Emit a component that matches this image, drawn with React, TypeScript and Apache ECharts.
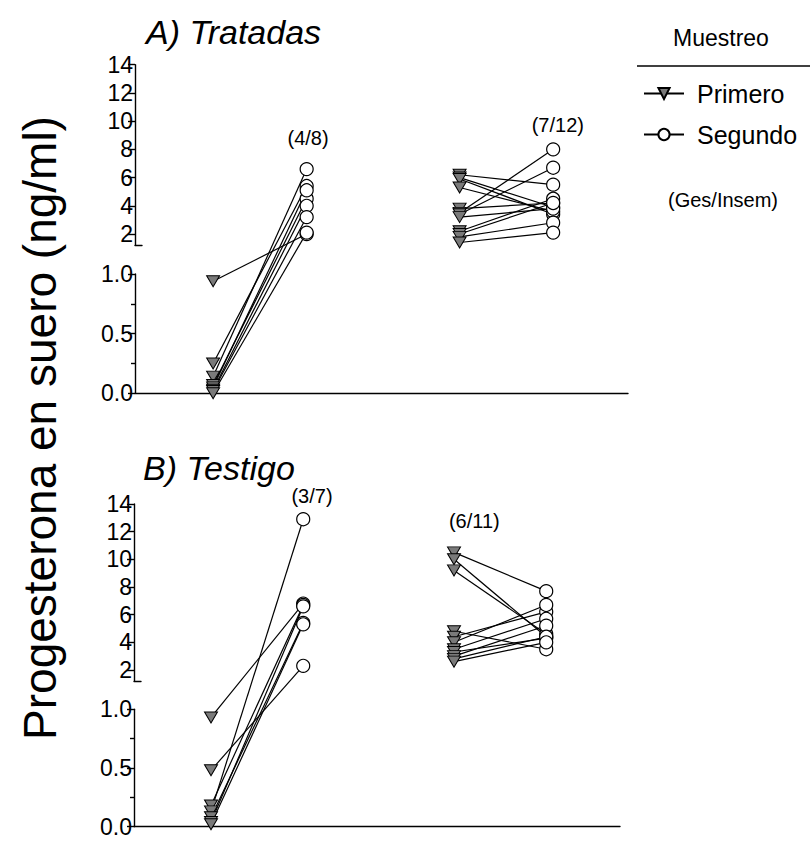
import React, { useEffect, useRef } from "react";
import * as echarts from "echarts";

const FONT = "'Liberation Sans', Arial, Helvetica, sans-serif";

// ---- Data (ng/ml) ----
// Panel A) Tratadas
const aGes1Primero = [0.94, 0.25, 0.14, 0.07, 0.05, 0.03, 0.02, 0.0];
const aGes1Segundo = [2.0, 5.4, 6.6, 4.5, 5.1, 4.0, 3.2, 2.1];
const aGes2Primero = [6.2, 6.0, 5.9, 5.3, 3.8, 3.5, 3.4, 3.2, 2.2, 2.0, 1.8, 1.4];
const aGes2Segundo = [5.5, 3.9, 3.4, 3.6, 4.2, 8.0, 6.7, 3.8, 4.5, 4.2, 2.8, 2.1];
// Panel B) Testigo
const bGes1Primero = [0.93, 0.48, 0.18, 0.13, 0.08, 0.04, 0.02];
const bGes1Segundo = [6.8, 2.3, 6.7, 12.9, 5.4, 6.6, 5.3];
const bGes2Primero = [10.5, 10.0, 9.2, 4.8, 4.4, 4.0, 3.5, 3.3, 3.0, 2.8, 2.6];
const bGes2Segundo = [7.7, 4.4, 4.6, 3.5, 6.2, 6.7, 5.7, 4.3, 5.2, 4.4, 4.0];

// group x positions on the (hidden) x scale
const xGroups = [0.835, 1.835, 3.47, 4.47];
const xMax = 5.27;

// ratio annotations (Ges/Insem)
const ratioTextA = ["(4/8)", "(7/12)"];
const ratioXA = [1.85, 4.52];
const ratioYA = [8.8, 9.7];
const ratioTextB = ["(3/7)", "(6/11)"];
const ratioXB = [1.93, 3.69];
const ratioYB = [14.6, 12.8];

// tick labels
const upperTicks = [2, 4, 6, 8, 10, 12, 14];
const upperMin = 1.2;

const titles = ["A) Tratadas", "B) Testigo"];

const TRI = "path://M0,0L12,0L6,10Z";

type PanelLayout = { top: number; left: number; width: number; U: number; G: number; L: number };
const layouts: PanelLayout[] = [
  { top: 64.7, left: 135, width: 493, U: 14.11, G: 40, L: 119.3 },
  { top: 504, left: 134, width: 486, U: 13.83, G: 39.3, L: 117.4 },
];

const panelData = [
  { p1: aGes1Primero, s1: aGes1Segundo, p2: aGes2Primero, s2: aGes2Segundo, rt: ratioTextA, rx: ratioXA, ry: ratioYA },
  { p1: bGes1Primero, s1: bGes1Segundo, p2: bGes2Primero, s2: bGes2Segundo, rt: ratioTextB, rx: ratioXB, ry: ratioYB },
];

function buildOption() {
  const grid: any[] = [];
  const xAxis: any[] = [];
  const yAxis: any[] = [];
  const series: any[] = [];
  const axisColor = "#000";
  const lw = 1.4;

  // legend dummy series (first so legend takes them)
  series.push({
    type: "line",
    name: "Primero",
    data: [],
    symbol: TRI,
    itemStyle: { color: "#7a7a7a", borderColor: "#000", borderWidth: 1 },
    lineStyle: { color: "#000", width: 1.2 },
  });
  series.push({
    type: "line",
    name: "Segundo",
    data: [],
    symbol: "circle",
    itemStyle: { color: "#fff", borderColor: "#000", borderWidth: 1.2 },
    lineStyle: { color: "#000", width: 1.2 },
  });

  layouts.forEach((lay, pi) => {
    const { top, left, width, U, G, L } = lay;
    const tMax = L + G + 12 * U;
    const t = (v: number) => (v <= 1 ? v * L : L + G + (v - 2) * U);
    const gi = pi * 3;
    // data grid
    grid.push({ left, top, width, height: tMax });
    // lower axis grid
    grid.push({ left, top: top + 12 * U + G, width, height: L });
    // upper axis grid
    grid.push({ left, top, width: 7, height: (14 - upperMin) * U });

    xAxis.push({ gridIndex: gi, type: "value", min: 0, max: xMax, show: false });
    yAxis.push({ gridIndex: gi, type: "value", min: 0, max: tMax, show: false });

    xAxis.push({
      gridIndex: gi + 1, type: "value", min: 0, max: 1,
      axisLine: { show: true, lineStyle: { color: axisColor, width: lw } },
      axisTick: { show: false }, axisLabel: { show: false }, splitLine: { show: false },
    });
    yAxis.push({
      gridIndex: gi + 1, type: "value", min: 0, max: 1, interval: 0.5,
      axisLine: { show: true, lineStyle: { color: axisColor, width: lw } },
      axisTick: { show: true, length: 7, lineStyle: { color: axisColor, width: lw } },
      minorTick: { show: true, splitNumber: 2, length: 4, lineStyle: { color: axisColor, width: lw } },
      axisLabel: {
        color: "#000", fontSize: 23, fontFamily: FONT, margin: 2,
        formatter: (v: number) => v.toFixed(1),
      },
      splitLine: { show: false }, minorSplitLine: { show: false },
    });

    xAxis.push({
      gridIndex: gi + 2, type: "value", min: 0, max: 1,
      axisLine: { show: true, lineStyle: { color: axisColor, width: lw } },
      axisTick: { show: false }, axisLabel: { show: false }, splitLine: { show: false },
    });
    yAxis.push({
      gridIndex: gi + 2, type: "value", min: upperMin, max: 14,
      axisLine: { show: true, lineStyle: { color: axisColor, width: lw } },
      axisTick: { show: true, length: 7, customValues: upperTicks, lineStyle: { color: axisColor, width: lw } },
      axisLabel: { color: "#000", fontSize: 23, fontFamily: FONT, margin: 2, customValues: upperTicks },
      splitLine: { show: false },
    });

    const d = panelData[pi];
    const groups = [
      { p: d.p1, s: d.s1, xp: xGroups[0], xs: xGroups[1] },
      { p: d.p2, s: d.s2, xp: xGroups[2], xs: xGroups[3] },
    ];
    const prim: number[][] = [];
    const seg: number[][] = [];
    groups.forEach((g) => {
      g.p.forEach((pv, i) => {
        const sv = g.s[i];
        series.push({
          type: "line", xAxisIndex: gi, yAxisIndex: gi, silent: true, clip: false,
          symbol: "none", z: 2,
          lineStyle: { color: "#000", width: 1.2 },
          data: [[g.xp, t(pv)], [g.xs, t(sv)]],
        });
        prim.push([g.xp, t(pv)]);
        seg.push([g.xs, t(sv)]);
      });
    });
    series.push({
      type: "scatter", name: "Primero-" + pi, xAxisIndex: gi, yAxisIndex: gi, clip: false, z: 3,
      symbol: TRI, symbolSize: [13, 11],
      itemStyle: { color: "#7a7a7a", borderColor: "#000", borderWidth: 1, opacity: 1 },
      data: prim,
    });
    series.push({
      type: "scatter", name: "Segundo-" + pi, xAxisIndex: gi, yAxisIndex: gi, clip: false, z: 3,
      symbol: "circle", symbolSize: 13,
      itemStyle: { color: "#fff", borderColor: "#000", borderWidth: 1.2, opacity: 1 },
      data: seg,
    });
    series.push({
      type: "scatter", name: "ratio-" + pi, xAxisIndex: gi, yAxisIndex: gi, clip: false, z: 4,
      symbolSize: 1, silent: true,
      itemStyle: { color: "rgba(0,0,0,0)", opacity: 1 },
      label: {
        show: true, position: "inside", color: "#000", opacity: 1, fontSize: 20, fontFamily: FONT,
        textBorderWidth: 0, textBorderColor: "transparent",
        formatter: (p: any) => d.rt[p.dataIndex],
      },
      data: d.rx.map((x, i) => [x, t(d.ry[i])]),
    });
  });

  return {
    animation: false,
    backgroundColor: "#fff",
    title: [
      { text: titles[0], left: 141, top: 10, textStyle: { fontSize: 34, fontStyle: "italic", fontWeight: "normal", color: "#000", fontFamily: FONT } },
      { text: titles[1], left: 138, top: 446, textStyle: { fontSize: 34, fontStyle: "italic", fontWeight: "normal", color: "#000", fontFamily: FONT } },
      { text: "Muestreo", left: 668, top: 21, textStyle: { fontSize: 23, fontWeight: "normal", color: "#000", fontFamily: FONT } },
      { text: "(Ges/Insem)", left: 663, top: 185, textStyle: { fontSize: 20, fontWeight: "normal", color: "#000", fontFamily: FONT } },
    ],
    legend: {
      orient: "vertical", left: 638, top: 76, itemWidth: 40, itemHeight: 14, itemGap: 16,
      selectedMode: false, data: ["Primero", "Segundo"],
      textStyle: { fontSize: 25, color: "#000", fontFamily: FONT, padding: [0, 0, 0, 8] },
    },
    graphic: [
      { type: "line", shape: { x1: 637, y1: 66, x2: 810, y2: 66 }, style: { stroke: "#000", lineWidth: 1.5 } },
      {
        type: "text", x: 40, y: 428, rotation: Math.PI / 2,
        style: { text: "Progesterona en suero (ng/ml)", fontSize: 46, fontFamily: FONT, fill: "#000", align: "center", verticalAlign: "middle" },
      },
    ],
    grid, xAxis, yAxis, series,
  };
}

export default function App() {
  const ref = useRef<HTMLDivElement>(null);
  useEffect(() => {
    if (!ref.current) return;
    const chart = echarts.init(ref.current, null, { renderer: "svg" });
    chart.setOption(buildOption() as any);
    return () => chart.dispose();
  }, []);
  return (
    <div
      ref={ref}
      style={{ position: "fixed", left: 0, top: 0, width: 812, height: 841, background: "#fff" }}
    />
  );
}
